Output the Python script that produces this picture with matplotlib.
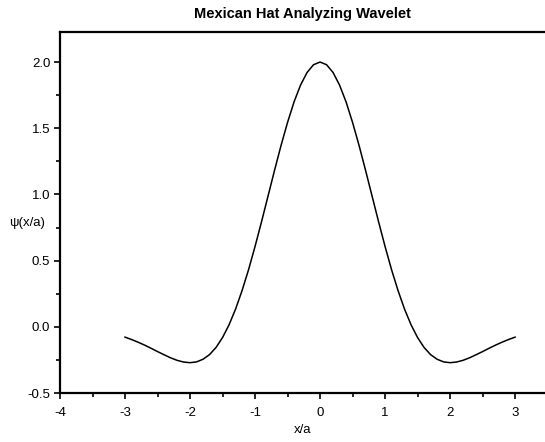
import matplotlib
matplotlib.use("Agg")
import matplotlib.pyplot as plt
from matplotlib.ticker import MultipleLocator

plt.rcParams['font.family'] = ['Liberation Sans', 'DejaVu Sans']

x_vals = [-3.0, -2.9, -2.8, -2.7, -2.6, -2.5, -2.4, -2.3, -2.2, -2.1, -2.0,
          -1.9, -1.8, -1.7, -1.6, -1.5, -1.4, -1.3, -1.2, -1.1, -1.0,
          -0.9, -0.8, -0.7, -0.6, -0.5, -0.4, -0.3, -0.2, -0.1, 0.0,
          0.1, 0.2, 0.3, 0.4, 0.5, 0.6, 0.7, 0.8, 0.9, 1.0,
          1.1, 1.2, 1.3, 1.4, 1.5, 1.6, 1.7, 1.8, 1.9, 2.0,
          2.1, 2.2, 2.3, 2.4, 2.5, 2.6, 2.7, 2.8, 2.9, 3.0]
psi_vals = [-0.078, -0.096, -0.116, -0.138, -0.162, -0.187, -0.211, -0.234, -0.253, -0.266, -0.271,
            -0.265, -0.245, -0.210, -0.156, -0.081, 0.015, 0.133, 0.273, 0.431, 0.607,
            0.794, 0.988, 1.182, 1.370, 1.544, 1.699, 1.826, 1.921, 1.980, 2.000,
            1.980, 1.921, 1.826, 1.699, 1.544, 1.370, 1.182, 0.988, 0.794, 0.607,
            0.431, 0.273, 0.133, 0.015, -0.081, -0.156, -0.210, -0.245, -0.265, -0.271,
            -0.266, -0.253, -0.234, -0.211, -0.187, -0.162, -0.138, -0.116, -0.096, -0.078]
x_ticks = [-4, -3, -2, -1, 0, 1, 2, 3]
x_ticklabels = ['-4', '-3', '-2', '-1', '0', '1', '2', '3']
y_ticks = [-0.5, 0.0, 0.5, 1.0, 1.5, 2.0]
y_ticklabels = ['-0.5', '0.0', '0.5', '1.0', '1.5', '2.0']

fig = plt.figure(figsize=(5.45, 4.42), dpi=100)
# axes: left 60px, right edge 545px, bottom 393px, top 32px
ax = fig.add_axes([60/545, (442-393)/442, 485/545, (393-32)/442])

ax.plot(x_vals, psi_vals, color='black', linewidth=1.1)

ax.set_xlim(-4, 3.46)
ax.set_ylim(-0.5, 2.227)
ax.set_xticks(x_ticks)
ax.set_xticklabels(x_ticklabels)
ax.set_yticks(y_ticks)
ax.set_yticklabels(y_ticklabels)
ax.xaxis.set_minor_locator(MultipleLocator(0.5))
ax.yaxis.set_minor_locator(MultipleLocator(0.25))

for s in ['left', 'bottom', 'top']:
    ax.spines[s].set_linewidth(1.6)
ax.spines['right'].set_visible(False)

ax.tick_params(which='major', direction='out', length=4, width=1.2, labelsize=9.5, pad=3)
ax.tick_params(which='minor', direction='out', length=3, width=1.2)
ax.tick_params(axis='x', pad=6)

ax.set_title('Mexican Hat Analyzing Wavelet', fontsize=10.5, fontweight='bold', pad=10)
ax.set_xlabel('x/a', fontsize=9.5, labelpad=4)
ax.text(-0.104, 0.471, 'ψ(x/a)', transform=ax.transAxes, fontsize=9.5, ha='left', va='center')

fig.savefig('out.png', dpi=100)
